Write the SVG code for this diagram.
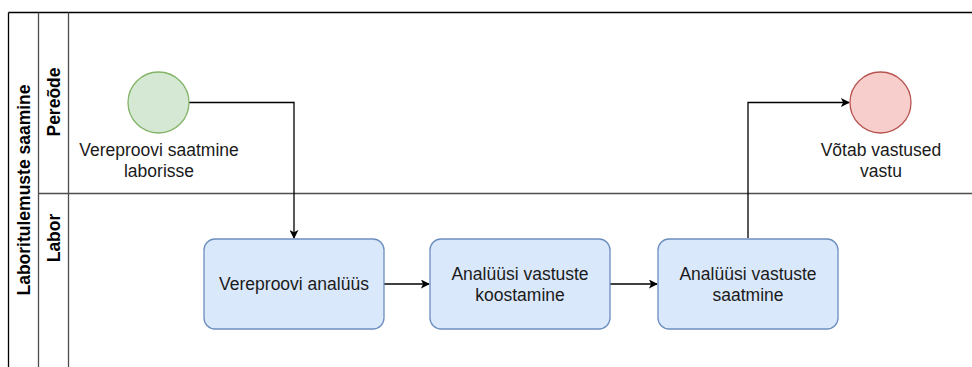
<svg xmlns="http://www.w3.org/2000/svg" width="972" height="367" viewBox="0 0 972 367">
  <style>
    .pool { fill: none; stroke: #000; stroke-width: 1.3; }
    .lane { fill: none; stroke: #4d4d4d; stroke-width: 1.3; }
    .hdr { font-family: "Liberation Sans", Arial, sans-serif; font-size: 17.5px; font-weight: bold; fill: #000; text-anchor: middle; dominant-baseline: central; }
    .lbl { font-family: "Liberation Sans", Arial, sans-serif; font-size: 17.5px; fill: #1a1a1a; text-anchor: middle; }
    .task { fill: #dae8fc; stroke: #6c8ebf; stroke-width: 1.3; }
    .start { fill: #d5e8d4; stroke: #82b366; stroke-width: 1.3; }
    .end { fill: #f8cecc; stroke: #b85450; stroke-width: 1.3; }
    .flow { fill: none; stroke: #000; stroke-width: 1.3; marker-end: url(#arrow); }
  </style>
  <defs>
    <marker id="arrow" viewBox="0 0 10 10" refX="9" refY="5" markerWidth="9" markerHeight="9" markerUnits="userSpaceOnUse" orient="auto">
      <path d="M0,0 L10,5 L0,10 L2.5,5 Z" fill="#000"/>
    </marker>
  </defs>

  <rect width="972" height="367" fill="#fff"/>

  <!-- pool and lanes -->
  <g id="pool">
    <line class="pool" x1="8.5" y1="12.5" x2="972" y2="12.5"/>
    <line class="pool" x1="8.5" y1="12.5" x2="8.5" y2="367"/>
    <line class="lane" x1="38.5" y1="12.5" x2="38.5" y2="367"/>
    <line class="lane" x1="68.5" y1="12.5" x2="68.5" y2="367"/>
    <line class="lane" x1="38.5" y1="193.5" x2="972" y2="193.5"/>
    <text class="hdr" transform="translate(24,190) rotate(-90)">Laboritulemuste saamine</text>
    <text class="hdr" transform="translate(54,102) rotate(-90)">Pereõde</text>
    <text class="hdr" transform="translate(54,238) rotate(-90)">Labor</text>
  </g>

  <!-- connectors -->
  <g id="connectors">
    <path class="flow" d="M189,102.5 H294 V238"/>
    <path class="flow" d="M384,284 H429"/>
    <path class="flow" d="M610,284 H657"/>
    <path class="flow" d="M748,238 V102.5 H849"/>
  </g>

  <g id="start-event">
    <circle class="start" cx="158.5" cy="102.5" r="30.5"/>
    <text class="lbl" x="159" y="156">Vereproovi saatmine</text>
    <text class="lbl" x="159" y="177">laborisse</text>
  </g>

  <g id="task-analyys">
    <rect class="task" x="204" y="239" width="180" height="90" rx="11"/>
    <text class="lbl" x="294" y="290">Vereproovi analüüs</text>
  </g>

  <g id="task-koostamine">
    <rect class="task" x="430" y="239" width="180" height="90" rx="11"/>
    <text class="lbl" x="520" y="280">Analüüsi vastuste</text>
    <text class="lbl" x="520" y="301">koostamine</text>
  </g>

  <g id="task-saatmine">
    <rect class="task" x="658" y="239" width="180" height="90" rx="11"/>
    <text class="lbl" x="748" y="280">Analüüsi vastuste</text>
    <text class="lbl" x="748" y="301">saatmine</text>
  </g>

  <g id="end-event">
    <circle class="end" cx="880.5" cy="102.5" r="30.5"/>
    <text class="lbl" x="881" y="156">Võtab vastused</text>
    <text class="lbl" x="881" y="177">vastu</text>
  </g>
</svg>
